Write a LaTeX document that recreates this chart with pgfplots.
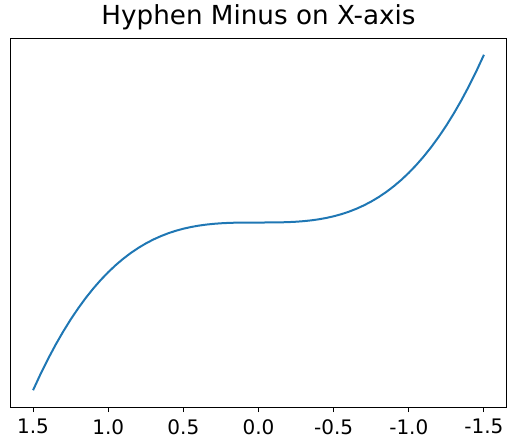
\documentclass[border=0pt]{standalone}
\usepackage{fontspec}
\setmainfont{DejaVu Sans}
\usepackage{pgfplots}
\pgfplotsset{compat=1.18}
\definecolor{mplblue}{HTML}{1F77B4}
\begin{document}
\begin{tikzpicture}
\begin{axis}[
  scale only axis,
  width=496bp, height=369bp,
  xmin=-1.65, xmax=1.65,
  ymin=-3.7125, ymax=3.7125,
  xtick={-1.5,-1,-0.5,0,0.5,1,1.5},
  xticklabels={1.5,1.0,0.5,0.0,-0.5,-1.0,-1.5},
  ytick=\empty,
  xtick pos=bottom,
  tick align=outside,
  major tick length=5bp,
  every tick/.style={black, line width=1bp},
  axis line style={line width=1bp},
  xticklabel style={font=\fontsize{20bp}{24bp}\selectfont, inner sep=0pt, yshift=-7bp},
  title={Hyphen Minus on X-axis},
  title style={font=\fontsize{26.2bp}{31bp}\selectfont, at={(0.5,1)}, anchor=base, yshift=8bp, inner sep=0pt},
  /pgf/number format/assume math mode=true,
]
\addplot[mplblue, line width=2bp] coordinates {
(-1.5,-3.375) (-1.45,-3.048625) (-1.4,-2.744) (-1.35,-2.460375) (-1.3,-2.197) (-1.25,-1.953125)
(-1.2,-1.728) (-1.15,-1.520875) (-1.1,-1.331) (-1.05,-1.157625) (-1.0,-1.0) (-0.95,-0.857375)
(-0.9,-0.729) (-0.85,-0.614125) (-0.8,-0.512) (-0.75,-0.421875) (-0.7,-0.343) (-0.65,-0.274625)
(-0.6,-0.216) (-0.55,-0.166375) (-0.5,-0.125) (-0.45,-0.091125) (-0.4,-0.064) (-0.35,-0.042875)
(-0.3,-0.027) (-0.25,-0.015625) (-0.2,-0.008) (-0.15,-0.003375) (-0.1,-0.001) (-0.05,-0.000125)
(0,0)
(0.05,0.000125) (0.1,0.001) (0.15,0.003375) (0.2,0.008) (0.25,0.015625) (0.3,0.027)
(0.35,0.042875) (0.4,0.064) (0.45,0.091125) (0.5,0.125) (0.55,0.166375) (0.6,0.216)
(0.65,0.274625) (0.7,0.343) (0.75,0.421875) (0.8,0.512) (0.85,0.614125) (0.9,0.729)
(0.95,0.857375) (1.0,1.0) (1.05,1.157625) (1.1,1.331) (1.15,1.520875) (1.2,1.728)
(1.25,1.953125) (1.3,2.197) (1.35,2.460375) (1.4,2.744) (1.45,3.048625) (1.5,3.375)
};
\end{axis}
\pgfresetboundingbox
\path[use as bounding box] ([shift={(-10.5bp,-40bp)}]current axis.south west) rectangle ([shift={(8.5bp,38bp)}]current axis.north east);
\end{tikzpicture}
\end{document}
